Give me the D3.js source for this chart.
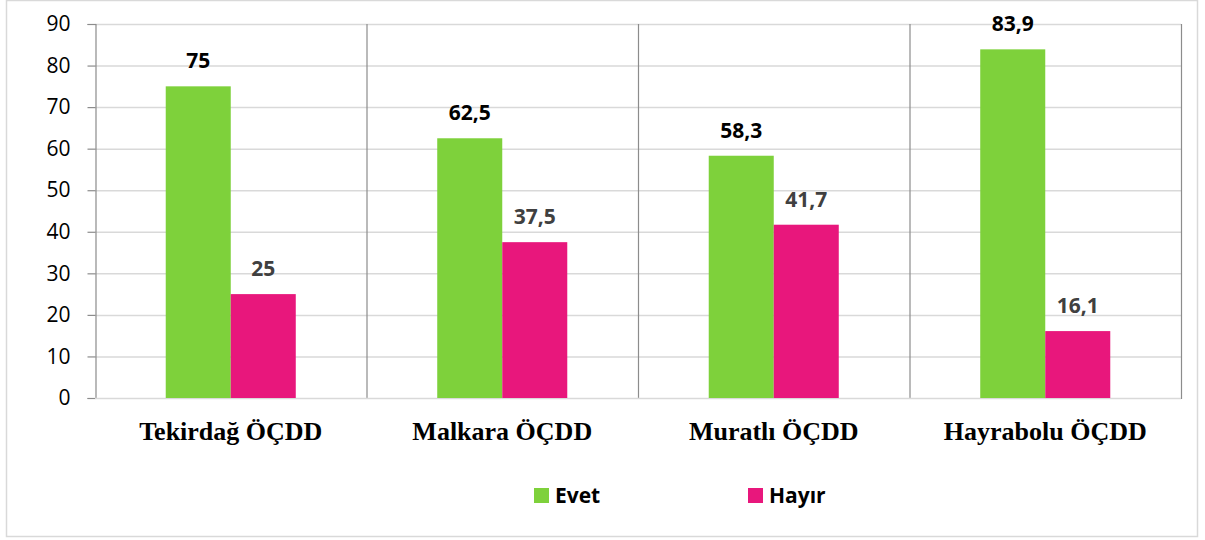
<!DOCTYPE html>
<html><head><meta charset="utf-8">
<script src="https://cdn.jsdelivr.net/npm/d3@7"></script>
<style>body{margin:0;background:#fff}svg{display:block}</style>
</head><body><svg id="c" width="1205" height="540"></svg>
<script>
const categories = ["Tekirdağ ÖÇDD", "Malkara ÖÇDD", "Muratlı ÖÇDD", "Hayrabolu ÖÇDD"];
const seriesNames = ["Evet", "Hayır"];
const evet = [75, 62.5, 58.3, 83.9];
const hayir = [25, 37.5, 41.7, 16.1];
const yTicks = [0, 10, 20, 30, 40, 50, 60, 70, 80, 90];
const colors = ["#7ed13b", "#e8177c"];
const labelColors = ["#000000", "#404040"];

const svg = d3.select("#c");
svg.append("rect").attr("x", 6.5).attr("y", 0.5).attr("width", 1191).attr("height", 536)
  .attr("fill", "#fff").attr("stroke", "#d9d9d9").attr("stroke-width", 1.5);

const L = 95, R = 1181, T = 24, B = 398;
const x = d3.scaleBand().domain(categories).range([L, R]).paddingInner(0).paddingOuter(0);
const xs = d3.scaleBand().domain(seriesNames).range([0, x.bandwidth()]).paddingInner(0).paddingOuter(1.088);
const y = d3.scaleLinear().domain([0, 90]).range([B, T]);

// gridlines
svg.append("g").selectAll("line").data(yTicks.filter(d => d > 0)).join("line")
  .attr("x1", L).attr("x2", R).attr("y1", d => y(d) + 0.5).attr("y2", d => y(d) + 0.5)
  .attr("stroke", "#d9d9d9").attr("stroke-width", 1.5);

// category separators
svg.append("g").selectAll("line").data(categories).join("line")
  .attr("x1", d => x(d) + x.bandwidth() + 0.5).attr("x2", d => x(d) + x.bandwidth() + 0.5)
  .attr("y1", T).attr("y2", B + 1)
  .attr("stroke", "#8c8c8c").attr("stroke-width", 1.2);

// y axis
const yAxis = d3.axisLeft(y).tickValues(yTicks).tickSize(8).tickPadding(17).tickFormat(d3.format("d"));
const ya = svg.append("g").attr("transform", `translate(${L + 0.5},0)`).call(yAxis);
ya.select(".domain").attr("stroke", "#8c8c8c").attr("stroke-width", 1.2);
ya.selectAll(".tick line").attr("stroke", "#8c8c8c").attr("stroke-width", 1.2);
ya.selectAll(".tick text").attr("font-family", "'Open Sans', 'Noto Sans', sans-serif")
  .attr("font-size", 21).attr("fill", "#000");

// baseline
svg.append("line").attr("x1", L).attr("x2", R).attr("y1", B + 0.5).attr("y2", B + 0.5)
  .attr("stroke", "#d9d9d9").attr("stroke-width", 1.5);

// bars
const data = categories.map((c, i) => ({c, vals: [evet[i], hayir[i]]}));
const groups = svg.append("g").selectAll("g").data(data).join("g")
  .attr("transform", d => `translate(${x(d.c)},0)`);
groups.selectAll("rect").data(d => d.vals.map((v, j) => ({v, s: seriesNames[j], j}))).join("rect")
  .attr("x", d => xs(d.s)).attr("width", xs.bandwidth())
  .attr("y", d => y(d.v)).attr("height", d => y(0) - y(d.v))
  .attr("fill", d => colors[d.j]);
groups.selectAll("text").data(d => d.vals.map((v, j) => ({v, s: seriesNames[j], j}))).join("text")
  .attr("x", d => xs(d.s) + xs.bandwidth() / 2).attr("y", d => y(d.v) - 18)
  .attr("text-anchor", "middle")
  .attr("font-family", "'Open Sans', 'Noto Sans', sans-serif").attr("font-weight", "bold")
  .attr("font-size", 21).attr("fill", d => labelColors[d.j])
  .text(d => String(d.v).replace(".", ","));

// x labels
const xAxis = d3.axisBottom(x).tickSize(0).tickPadding(24);
const xa = svg.append("g").attr("transform", `translate(0,${B})`).call(xAxis);
xa.select(".domain").remove();
xa.selectAll(".tick text").attr("font-family", "'Liberation Serif', 'Times New Roman', serif")
  .attr("font-weight", "bold").attr("font-size", 26).attr("fill", "#000");

// legend
const legX = [534, 748];
const leg = svg.append("g").selectAll("g").data(seriesNames).join("g")
  .attr("transform", (d, i) => `translate(${legX[i]},488)`);
leg.append("rect").attr("width", 15).attr("height", 15).attr("fill", (d, i) => colors[i]);
leg.append("text").attr("x", 21).attr("y", 15).text(d => d)
  .attr("font-family", "'Open Sans', 'Noto Sans', sans-serif").attr("font-weight", "bold")
  .attr("font-size", 21).attr("fill", "#000");
</script></body></html>
